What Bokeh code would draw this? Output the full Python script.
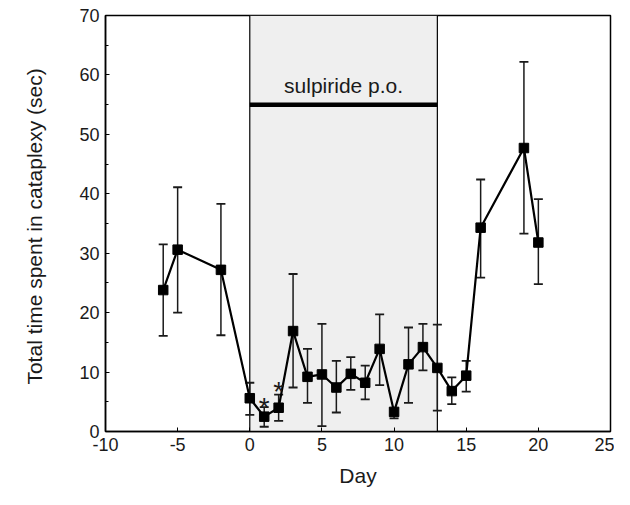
from bokeh.plotting import figure
from bokeh.models import (Range1d, FixedTicker, Whisker, BoxAnnotation, ColumnDataSource,
                          TeeHead, Label)
from bokeh.embed import file_html
from bokeh.resources import INLINE
from bokeh.core.properties import value

# ---- data ----
days  = [-6, -5, -2, 0, 1, 2, 3, 4, 5, 6, 7, 8, 9, 10, 11, 12, 13, 14, 15, 16, 19, 20]
mean  = [23.8, 30.6, 27.2, 5.6, 2.5, 4.0, 16.9, 9.2, 9.6, 7.4, 9.7, 8.2, 13.9, 3.3, 11.3, 14.2, 10.7, 6.8, 9.4, 34.3, 47.7, 31.8]
upper = [31.5, 41.1, 38.3, 8.2, 4.1, 6.2, 26.5, 13.9, 18.1, 11.9, 12.5, 11.1, 19.7, 3.9, 17.5, 18.1, 18.0, 9.1, 11.9, 42.4, 62.2, 39.1]
lower = [16.1, 20.0, 16.2, 2.8, 0.8, 1.8, 7.4, 4.8, 0.9, 3.2, 7.0, 5.4, 7.8, 2.2, 4.8, 10.3, 3.5, 4.6, 6.7, 25.9, 33.3, 24.8]

treat_start, treat_end = 0, 13
treat_level = 55
treat_label = "sulpiride p.o."
star_days = [1, 2]
star_y = [5.4, 8.0]

x_ticks = [-10, -5, 0, 5, 10, 15, 20, 25]
x_tick_labels = {-10: "-10", -5: "-5"}
y_ticks = [0, 10, 20, 30, 40, 50, 60, 70]
y_minor = [5, 15, 25, 35, 45, 55, 65]

FONT = "Liberation Sans"
INK = "#1a1a1a"

p = figure(width=614, height=489, output_backend="svg", toolbar_location=None,
           x_range=Range1d(-10, 25), y_range=Range1d(0, 70),
           min_border_left=105, min_border_right=4, min_border_top=15, min_border_bottom=57)
p.xgrid.visible = False
p.ygrid.visible = False
p.outline_line_color = "black"
p.outline_line_width = 1.5
p.background_fill_color = "white"
p.border_fill_color = "white"

# treatment period shading
p.add_layout(BoxAnnotation(left=treat_start, right=treat_end, fill_color="#efefef", fill_alpha=1.0,
                           line_color="black", line_alpha=1.0, line_width=1.2, level="underlay"))

# treatment bar
p.line([treat_start, treat_end], [treat_level, treat_level], line_color="black", line_width=4.5)
p.add_layout(Label(x=(treat_start + treat_end) / 2, y=treat_level, text=treat_label,
                   text_font=FONT, text_font_size="21px", text_align="center",
                   text_baseline="bottom", y_offset=8, text_color=INK))

src = ColumnDataSource(dict(x=days, y=mean, up=upper, lo=lower))
w = Whisker(source=src, base="x", upper="up", lower="lo", line_color=INK, line_width=1.5,
            upper_head=TeeHead(size=9, line_color=INK, line_width=1.8),
            lower_head=TeeHead(size=9, line_color=INK, line_width=1.8))
p.add_layout(w)
p.line("x", "y", source=src, line_color="black", line_width=2.2)
p.scatter("x", "y", source=src, marker="square", size=9.5, fill_color="black", line_color="black")

# significance stars
p.text(x=star_days, y=star_y, text=["*", "*"], text_font=value(FONT), text_font_size="28px",
       text_align="center", text_baseline="middle", y_offset=8, text_color=INK)

# axes
for ax in (p.xaxis[0], p.yaxis[0]):
    ax.axis_line_color = "black"
    ax.axis_line_width = 1.5
    ax.major_tick_in = 4
    ax.major_tick_out = 0
    ax.minor_tick_in = 3
    ax.minor_tick_out = 0
    ax.major_tick_line_color = "black"
    ax.minor_tick_line_color = "black"
    ax.major_label_text_font = FONT
    ax.major_label_text_font_size = "18px"
    ax.major_label_text_color = INK
    ax.axis_label_text_font = FONT
    ax.axis_label_text_font_size = "21px"
    ax.axis_label_text_font_style = "normal"
    ax.axis_label_text_color = INK
    ax.major_label_standoff = 6

p.xaxis.ticker = FixedTicker(ticks=x_ticks)
p.xaxis.major_label_overrides = x_tick_labels
p.yaxis.ticker = FixedTicker(ticks=y_ticks, minor_ticks=y_minor)
p.xaxis.axis_label = "Day"
p.yaxis.axis_label = "Total time  spent in cataplexy (sec)"
p.xaxis.axis_label_standoff = 10
p.yaxis.axis_label_standoff = 30

open("out.html", "w").write(file_html(p, INLINE))
